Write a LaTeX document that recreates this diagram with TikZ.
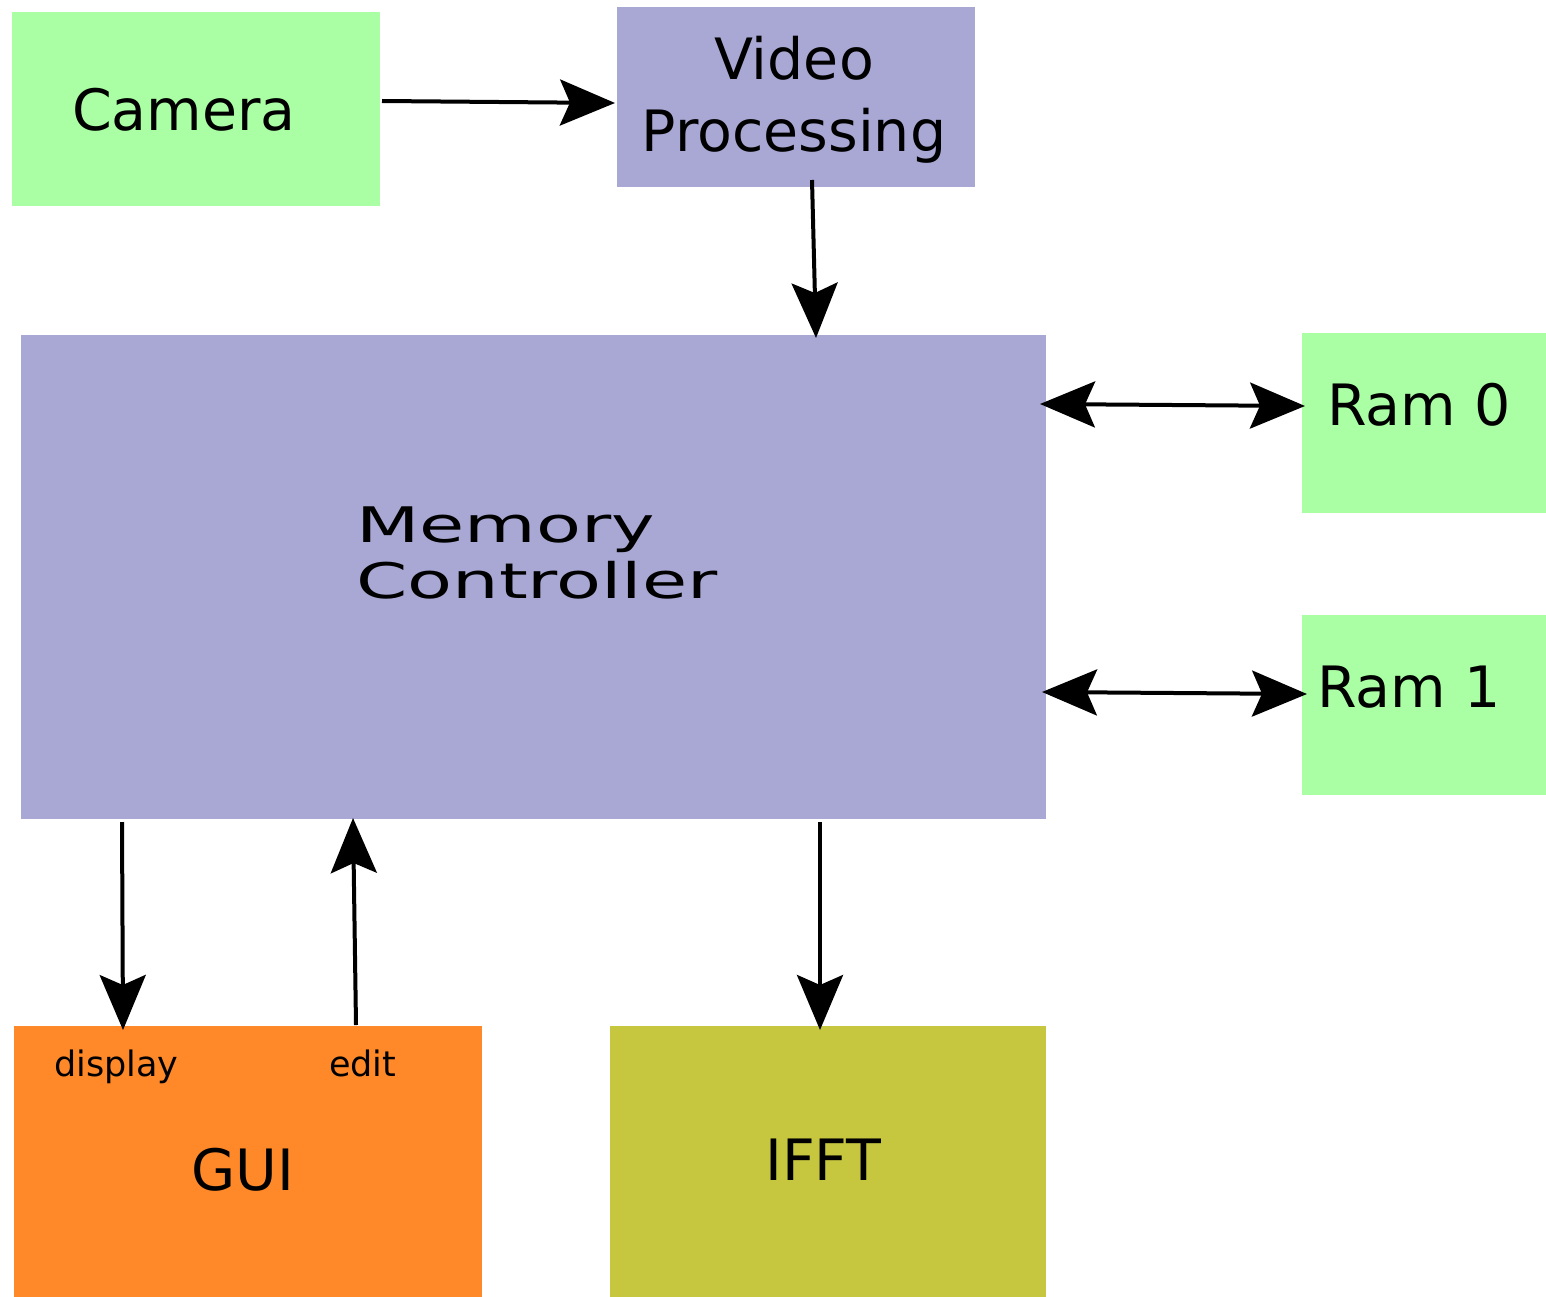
\documentclass[tikz,border=0pt]{standalone}
\usepackage{fontspec}
\setmainfont{DejaVu Sans}
\newfontfamily\widefont[FakeStretch=1.5]{DejaVu Sans}
\usetikzlibrary{arrows.meta,calc}
\definecolor{cgreen}{RGB}{170,255,164}
\definecolor{cpurple}{RGB}{169,168,212}
\definecolor{corange}{RGB}{255,136,40}
\definecolor{colive}{RGB}{198,199,63}
\begin{document}
\begin{tikzpicture}[x=1pt,y=-1pt,
  box/.style={draw=none,inner sep=0pt,outer sep=0pt,anchor=north west},
  big/.style={inner sep=0pt,font=\fontsize{57}{72}\selectfont},
  small/.style={inner sep=0pt,font=\fontsize{35}{42}\selectfont},
  arr/.style={line width=4pt,-{Stealth[length=55pt,width=46pt,inset=10pt]}},
  darr/.style={line width=4pt,{Stealth[length=55pt,width=46pt,inset=10pt]}-{Stealth[length=55pt,width=46pt,inset=10pt]}}]
\useasboundingbox[fill=white] (0,0) rectangle (1546,1297);
% boxes
\node[box,fill=cgreen,minimum width=368pt,minimum height=194pt] (cam) at (12,12) {};
\node[box,fill=cpurple,minimum width=358pt,minimum height=180pt] (vp) at (617,7) {};
\node[box,fill=cpurple,minimum width=1025pt,minimum height=484pt] (mc) at (21,335) {};
\node[box,fill=cgreen,minimum width=244pt,minimum height=180pt] (ram0) at (1302,333) {};
\node[box,fill=cgreen,minimum width=244pt,minimum height=180pt] (ram1) at (1302,615) {};
\node[box,fill=corange,minimum width=468pt,minimum height=271pt] (gui) at (14,1026) {};
\node[box,fill=colive,minimum width=436pt,minimum height=271pt] (ifft) at (610,1026) {};
% labels
\node[big,anchor=base west] (camtxt) at (72,131) {Camera};
\node[big,anchor=base] (vptxt1) at (794,80) {Video};
\node[big,anchor=base] (vptxt2) at (794,152) {Processing};
\node[inner sep=0pt,anchor=base west,font=\widefont\fontsize{49}{56}\selectfont] (mctxt1) at (356,542) {Memory};
\node[inner sep=0pt,anchor=base west,font=\widefont\fontsize{49}{56}\selectfont] (mctxt2) at (356,598) {Controller};
\node[big,anchor=base west] (r0txt) at (1327,425) {Ram 0};
\node[big,anchor=base west] (r1txt) at (1317,707) {Ram 1};
\node[big,anchor=base west] (guitxt) at (191,1190) {GUI};
\node[big,anchor=base west] (iffttxt) at (765,1180) {IFFT};
\node[small,anchor=base west] (disp) at (54,1076) {display};
\node[small,anchor=base west] (edit) at (329,1076) {edit};
% connectors
\draw[arr] ($(cam.east)+(2,-8)$) -- ($(vp.west)+(-2,6)$);
\draw[arr] ($(vp.south)+(16,-7)$) -- ($(mc.north west)+(795,3)$);
\draw[darr] ($(mc.north east)+(-6,69)$) -- ($(ram0.west)+(3,-17)$);
\draw[darr] ($(mc.north east)+(-4,357)$) -- ($(ram1.west)+(5,-11)$);
\draw[arr] ($(mc.south west)+(101,3)$) -- ($(gui.north west)+(109,4)$);
\draw[arr] ($(gui.north west)+(342,-1)$) -- ($(mc.south west)+(332,-1)$);
\draw[arr] ($(mc.south west)+(799,3)$) -- ($(ifft.north west)+(210,4)$);
\end{tikzpicture}
\end{document}
